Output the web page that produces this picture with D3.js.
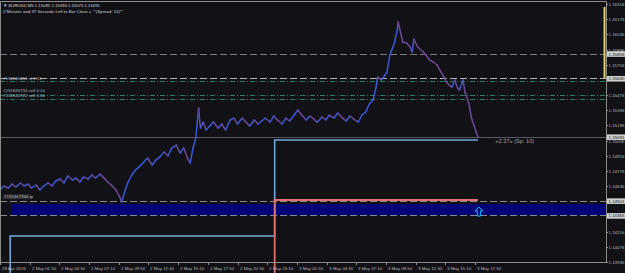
<!DOCTYPE html>
<html><head><meta charset="utf-8">
<script src="https://cdn.jsdelivr.net/npm/d3@7"></script>
<style>
body{margin:0;background:#111116;overflow:hidden}
svg{display:block}
text{font-family:"Liberation Sans",Arial,sans-serif}
</style>
</head><body><svg id="c" width="625" height="273"></svg>
<script>
// ---------- DATA ----------
const symbolTitle = "\u25BC EURUSD,M5  1.15085 1.15094 1.15075 1.15091";
const infoLine = "2 Minutes and 37 Seconds Left to Bar Close = \"*(Spread: 10)*\"";
const bars = [0,4,9,13,17,22,26,30,34,39,43,47,52,56,60,65,69,73,78,82,86,90,95,99,103,108,112,116,121,125,129,131,135,138,142,146,151,155,159,164,168,172,177,181,185,190,194,198,202,205,208,211,214,216,219,222,226,230,235,239,243,248,252,256,261,265,269,274,278,282,286,291,295,299,304,308,312,317,321,325,330,334,338,342,347,351,355,360,364,368,373,377,381,386,390,394,398,402,405,407,411,415,417,420,423,425,428,429,431,434,438,442,444,446,450,456,459,463,467,471,474,476,479,481,485,487,490,493,495,499,501,504,506,508,511,513,515];
const closes = [1.14600,1.14637,1.14619,1.14655,1.14628,1.14665,1.14637,1.14655,1.14619,1.14646,1.14600,1.14637,1.14665,1.14637,1.14683,1.14702,1.14665,1.14729,1.14692,1.14711,1.14674,1.14720,1.14702,1.14738,1.14711,1.14748,1.14711,1.14674,1.14637,1.14600,1.14536,1.14489,1.14600,1.14674,1.14738,1.14785,1.14821,1.14858,1.14895,1.14831,1.14877,1.14904,1.14951,1.14914,1.14987,1.15015,1.14941,1.14987,1.14895,1.14849,1.14987,1.15080,1.15356,1.15172,1.15227,1.15153,1.15190,1.15227,1.15172,1.15209,1.15153,1.15246,1.15264,1.15209,1.15264,1.15227,1.15190,1.15246,1.15209,1.15237,1.15264,1.15227,1.15283,1.15246,1.15209,1.15264,1.15237,1.15292,1.15338,1.15292,1.15246,1.15283,1.15255,1.15227,1.15273,1.15246,1.15292,1.15264,1.15310,1.15273,1.15237,1.15283,1.15255,1.15227,1.15292,1.15319,1.15393,1.15430,1.15541,1.15642,1.15615,1.15661,1.15688,1.15845,1.15910,1.15956,1.16076,1.16150,1.16076,1.15965,1.15956,1.15919,1.15873,1.15993,1.15919,1.15873,1.15845,1.15799,1.15781,1.15753,1.15707,1.15679,1.15633,1.15596,1.15559,1.15550,1.15615,1.15541,1.15522,1.15615,1.15504,1.15430,1.15366,1.15264,1.15190,1.15135,1.15091];
const priceTicks = [1.13936,1.14076,1.14216,1.14356,1.14496,1.14636,1.14776,1.14916,1.15056,1.15196,1.15336,1.15476,1.15616,1.15756,1.15896,1.16036,1.16176,1.16316];
const timeBars = [0,32,64,96,128,160,192,224,256,288,320,352,384,416,448,480,512];
const timeLabels = ["29 Apr 2016","2 May 01:50","2 May 04:30","2 May 07:10","2 May 09:50","2 May 12:30","2 May 15:10","2 May 17:50","2 May 20:30","2 May 23:10","3 May 01:50","3 May 04:30","3 May 07:10","3 May 09:50","3 May 12:30","3 May 15:10","3 May 17:50"];
const dashedLevels = [1.15858,1.15630,1.14501,1.14365];
const dashedColors = ["#7a7a7a","#b0b0b0","#8a8a8a","#8a8a8a"];
const markedPrices = [1.15858,1.15630,1.15091,1.14501,1.14365];
const orderLevels = [1.15605,1.15480,1.15444];
const orderLabels = ["#151845456 sl 1.15","#151845734 sell 0.10","#151845722 sell 0.10"];
const orderLabelPrices = [1.15614,1.15508,1.15457];
const tpLabel = "#151467356 tp";
const tpLabelPrice = 1.14525;
const bidPrice = 1.15091;
const zone = {startBar:13, low:1.14369, high:1.14471};
const blueStepBars = [0,11,296,515];
const blueStepVals = [1.13800,1.14176,1.15061];
const redStepBars = [0,296,515];
const redStepVals = [1.13800,1.14508];
const yellowRange = [1.15630,1.16288];
const arrowBar = 516, arrowPrice = 1.14443;
const spreadText = "\u00AB2.37\u00BB (Sp: 10)";
const spreadBar = 534, spreadPrice = 1.15035;

// ---------- LAYOUT ----------
const svg = d3.select("#c");
const W = 625, H = 273, plotR = 606, plotB = 262;
const x = d3.scaleLinear().domain([0,653]).range([0,plotR]);
const y = d3.scaleLinear().domain([1.13936,1.16316]).range([plotB,4]);
const fs = 4.4;

svg.append("rect").attr("width",W).attr("height",H).attr("fill","#111116");

// zone band
svg.append("rect").attr("x",x(zone.startBar)).attr("y",y(zone.high))
  .attr("width",plotR-x(zone.startBar)).attr("height",y(zone.low)-y(zone.high))
  .attr("fill","#000078");

// dashed levels
dashedLevels.forEach((p,i)=>{
  svg.append("line").attr("x1",0).attr("x2",plotR).attr("y1",Math.round(y(p))+0.5).attr("y2",Math.round(y(p))+0.5)
    .attr("stroke",dashedColors[i]).attr("stroke-width",1).attr("stroke-dasharray","7,3");
});
// order lines (dash-dot, green)
orderLevels.forEach(p=>{
  svg.append("line").attr("x1",0).attr("x2",plotR).attr("y1",Math.round(y(p))+0.5).attr("y2",Math.round(y(p))+0.5)
    .attr("stroke","#2b7a66").attr("stroke-width",1).attr("stroke-dasharray","5,2,1,2");
});
orderLabels.forEach((t,i)=>{
  svg.append("text").attr("x",3).attr("y",y(orderLabelPrices[i])).attr("font-size",fs).attr("fill","#b8b8b8").text(t);
});
// tp label
svg.append("rect").attr("x",3).attr("y",y(tpLabelPrice)-4).attr("width",28).attr("height",5).attr("fill","#2a2a2e");
svg.append("text").attr("x",4).attr("y",y(tpLabelPrice)).attr("font-size",fs).attr("fill","#b8b8b8").text(tpLabel);

// bid line
svg.append("line").attr("x1",0).attr("x2",plotR).attr("y1",Math.round(y(bidPrice))+0.5).attr("y2",Math.round(y(bidPrice))+0.5)
  .attr("stroke","#5a5a60").attr("stroke-width",1);

// step lines
function stepPath(bs,vs){
  const pts=[];
  for(let i=0;i<vs.length;i++){pts.push([x(bs[i]),y(vs[i])]);pts.push([x(bs[i+1]),y(vs[i])]);}
  return d3.line()(pts);
}
svg.append("path").attr("d",stepPath(blueStepBars,blueStepVals)).attr("fill","none").attr("stroke","#6fa8dc").attr("stroke-width",1.6);
svg.append("path").attr("d",stepPath(redStepBars,redStepVals)).attr("fill","none").attr("stroke","#e07070").attr("stroke-width",1.8);

// price line
for(let i=1;i<bars.length;i++){
  svg.append("line").attr("x1",x(bars[i-1])).attr("y1",y(closes[i-1])).attr("x2",x(bars[i])).attr("y2",y(closes[i]))
    .attr("stroke", closes[i]>=closes[i-1] ? "#3a58d8" : "#6c4a98").attr("stroke-width",1.5).attr("stroke-linecap","round");
}

// arrow
const ax = x(arrowBar), ay = y(arrowPrice);
svg.append("path").attr("d",`M${ax},${ay} L${ax+4},${ay+4} L${ax+1.5},${ay+4} L${ax+1.5},${ay+9} L${ax-1.5},${ay+9} L${ax-1.5},${ay+4} L${ax-4},${ay+4} Z`)
  .attr("fill","none").attr("stroke","#00c8ff").attr("stroke-width",1);

// spread text
svg.append("text").attr("x",x(spreadBar)).attr("y",y(spreadPrice)).attr("font-size",5.6).attr("fill","#a0a0a0").text(spreadText);

// frame
svg.append("path").attr("d",`M0.5,1.5 H${plotR+0.5} V${plotB+0.5} H0.5 Z`).attr("fill","none").attr("stroke","#8c8c8c").attr("stroke-width",1);

// yellow bar
svg.append("rect").attr("x",plotR-2.5).attr("y",y(yellowRange[1])).attr("width",2).attr("height",y(yellowRange[0])-y(yellowRange[1])).attr("fill","#d8d070");

// y axis
priceTicks.forEach(p=>{
  const yy = Math.round(y(p))+0.5;
  svg.append("line").attr("x1",plotR).attr("x2",plotR+2).attr("y1",yy).attr("y2",yy).attr("stroke","#8c8c8c");
  const covered = markedPrices.some(m=>Math.abs(y(m)-y(p))<2.5);
  if(!covered) svg.append("text").attr("x",plotR+2.5).attr("y",yy+1.1).attr("font-size",fs).attr("fill","#b8b8b8").text(p.toFixed(5));
});
markedPrices.forEach(p=>{
  const yy = y(p)+0.4;
  svg.append("rect").attr("x",plotR+1).attr("y",yy-2.8).attr("width",W-plotR-1).attr("height",5.6).attr("fill","#d0d0d0");
  svg.append("text").attr("x",plotR+2.5).attr("y",yy+1.6).attr("font-size",fs).attr("fill","#111").text(p.toFixed(5));
});

// x axis
timeBars.forEach((b,i)=>{
  const xx = Math.round(x(b))+0.5;
  svg.append("line").attr("x1",xx).attr("x2",xx).attr("y1",plotB).attr("y2",plotB+3).attr("stroke","#8c8c8c");
  svg.append("text").attr("x",xx+1.5).attr("y",plotB+7.5).attr("font-size",fs).attr("fill","#b8b8b8").text(timeLabels[i]);
});

// title
svg.append("text").attr("x",3).attr("y",7).attr("font-size",fs).attr("fill","#d0d0d0").attr("textLength",97).text(symbolTitle);
svg.append("text").attr("x",3).attr("y",12.5).attr("font-size",fs).attr("fill","#d0d0d0").attr("textLength",120).text(infoLine);
</script>
</body></html>
